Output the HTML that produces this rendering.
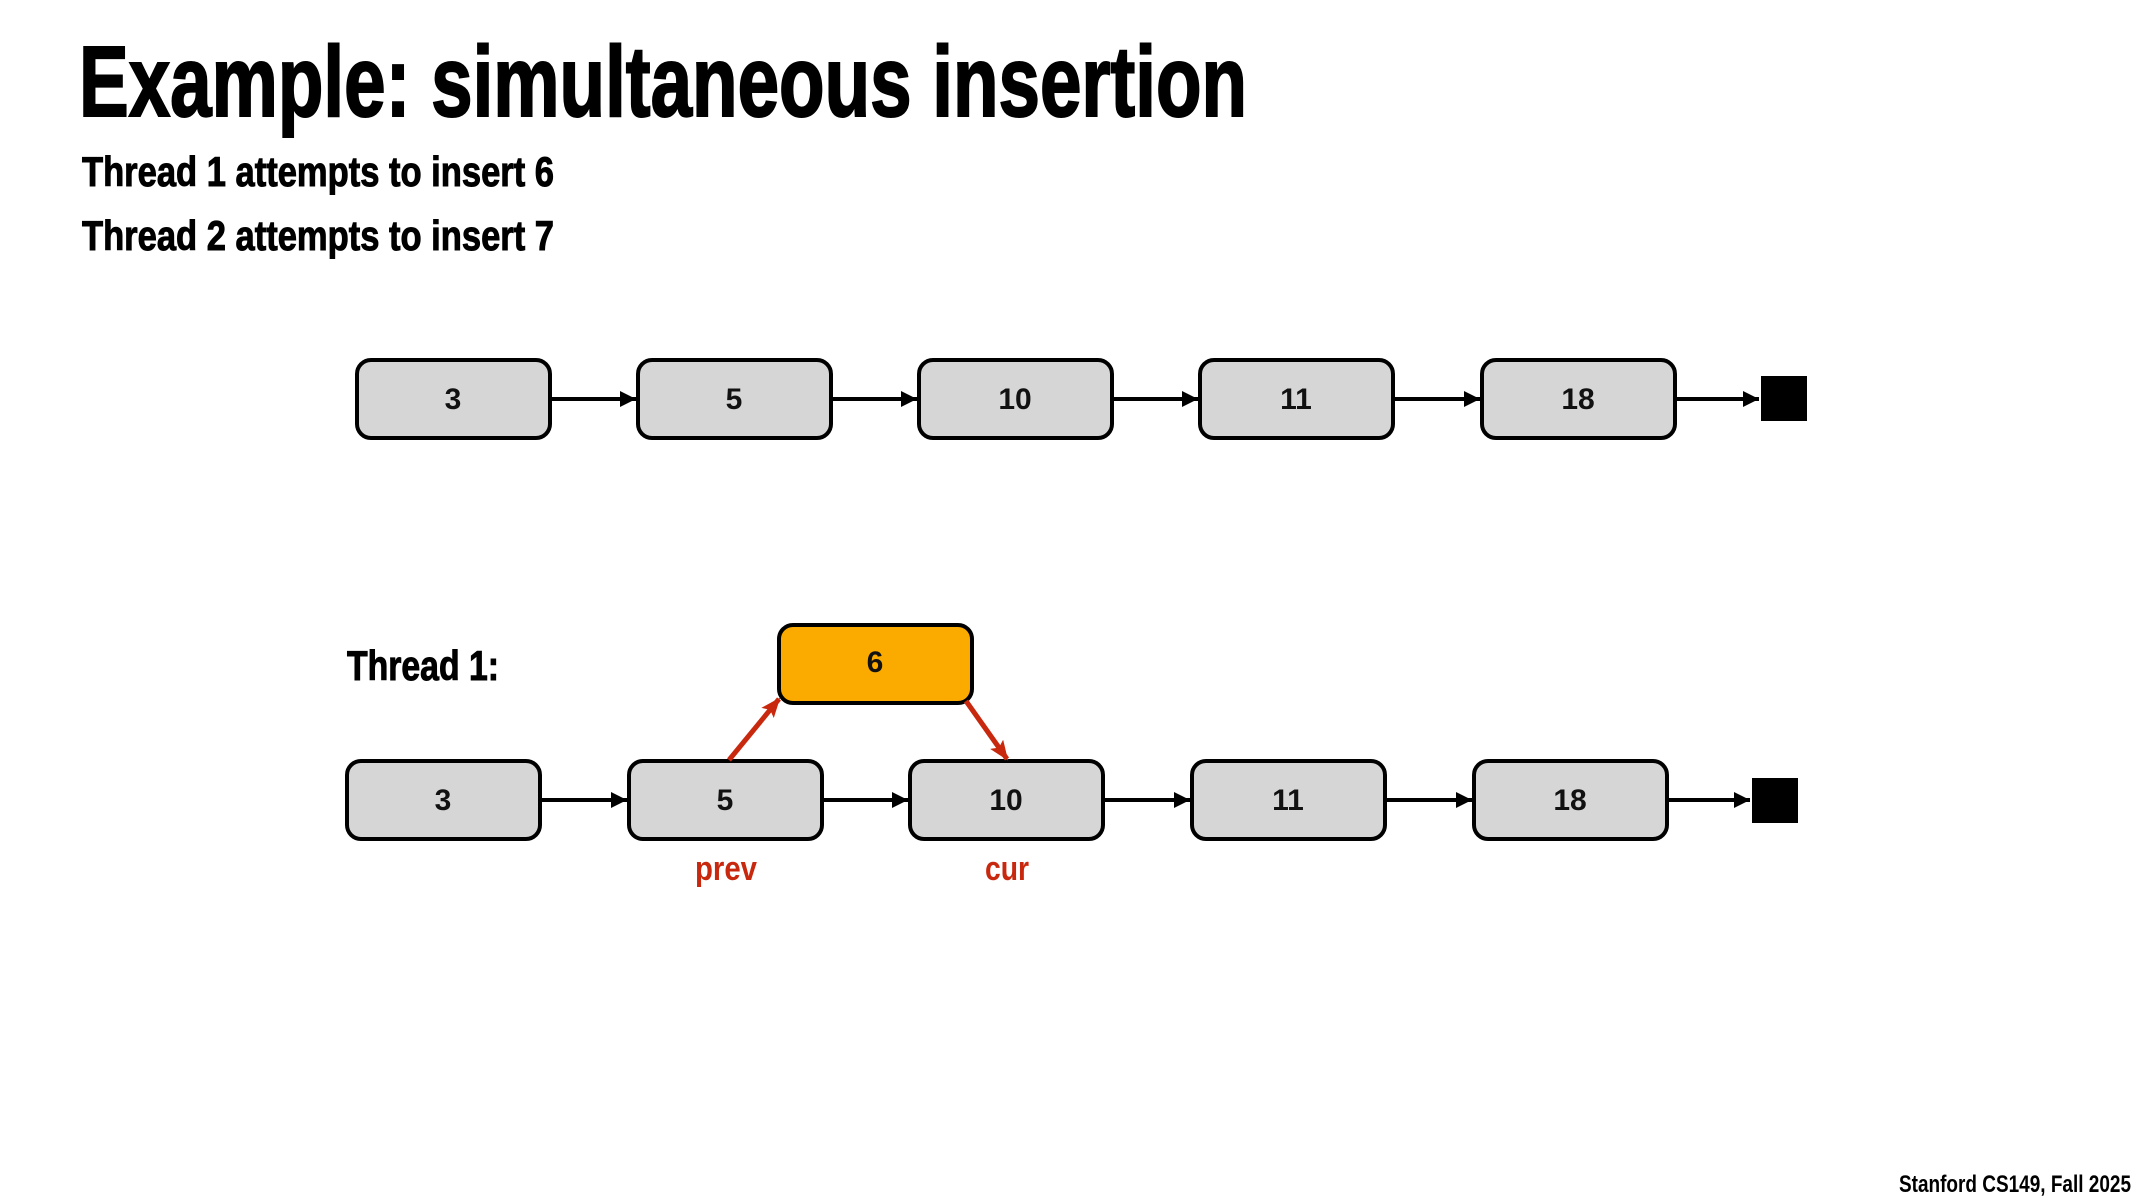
<!DOCTYPE html>
<html><head><meta charset="utf-8"><style>html,body{margin:0;padding:0;background:#fff}svg{display:block}</style></head>
<body>
<svg width="2133" height="1200" viewBox="0 0 2133 1200" xmlns="http://www.w3.org/2000/svg" font-family="Liberation Sans, sans-serif" font-weight="bold">
<defs>
<marker id="ab" markerWidth="20" markerHeight="20" refX="16" refY="8" orient="auto" markerUnits="userSpaceOnUse"><path d="M0,0 L16,8 L0,16 z" fill="#000"/></marker>
<marker id="ar" markerWidth="24" markerHeight="24" refX="18" refY="8" orient="auto" markerUnits="userSpaceOnUse"><path d="M0,0 L20,8 L0,16 L4,8 z" fill="#c8290e"/></marker>
</defs>
<text x="79" y="116" font-size="100" textLength="1168" lengthAdjust="spacingAndGlyphs" stroke="#000" stroke-width="2">Example: simultaneous insertion</text>
<text x="82" y="186" font-size="42" textLength="472" lengthAdjust="spacingAndGlyphs" stroke="#000" stroke-width="1">Thread 1 attempts to insert 6</text>
<text x="82" y="250" font-size="42" textLength="472" lengthAdjust="spacingAndGlyphs" stroke="#000" stroke-width="1">Thread 2 attempts to insert 7</text>
<text x="347" y="680" font-size="42" textLength="152" lengthAdjust="spacingAndGlyphs" stroke="#000" stroke-width="1">Thread 1:</text>
<text x="2131" y="1192" font-size="24" text-anchor="end" textLength="232" lengthAdjust="spacingAndGlyphs">Stanford CS149, Fall 2025</text>
<g stroke="#000" stroke-width="4" fill="#d6d6d6">
<rect x="357" y="360" width="193" height="78" rx="14"/>
<rect x="638" y="360" width="193" height="78" rx="14"/>
<rect x="919" y="360" width="193" height="78" rx="14"/>
<rect x="1200" y="360" width="193" height="78" rx="14"/>
<rect x="1482" y="360" width="193" height="78" rx="14"/>
<rect x="347" y="761" width="193" height="78" rx="14"/>
<rect x="629" y="761" width="193" height="78" rx="14"/>
<rect x="910" y="761" width="193" height="78" rx="14"/>
<rect x="1192" y="761" width="193" height="78" rx="14"/>
<rect x="1474" y="761" width="193" height="78" rx="14"/>
<rect x="779" y="625" width="193" height="78" rx="14" fill="#fbab00"/>
</g>
<rect x="1761" y="376" width="46" height="45" fill="#000"/>
<rect x="1752" y="778" width="46" height="45" fill="#000"/>
<g stroke="#000" stroke-width="4" marker-end="url(#ab)">
<line x1="550" y1="399" x2="636" y2="399"/>
<line x1="831" y1="399" x2="917" y2="399"/>
<line x1="1112" y1="399" x2="1198" y2="399"/>
<line x1="1393" y1="399" x2="1480" y2="399"/>
<line x1="1675" y1="399" x2="1759" y2="399"/>
<line x1="540" y1="800" x2="627" y2="800"/>
<line x1="822" y1="800" x2="908" y2="800"/>
<line x1="1103" y1="800" x2="1190" y2="800"/>
<line x1="1385" y1="800" x2="1472" y2="800"/>
<line x1="1667" y1="800" x2="1750" y2="800"/>
</g>
<g stroke="#c8290e" stroke-width="5" marker-end="url(#ar)">
<line x1="729" y1="760" x2="779" y2="699"/>
<line x1="966" y1="701" x2="1007" y2="759"/>
</g>
<g font-size="30" text-anchor="middle" fill="#111">
<text x="453" y="409">3</text><text x="734" y="409">5</text><text x="1015" y="409">10</text><text x="1296" y="409">11</text><text x="1578" y="409">18</text>
<text x="443" y="810">3</text><text x="725" y="810">5</text><text x="1006" y="810">10</text><text x="1288" y="810">11</text><text x="1570" y="810">18</text>
<text x="875" y="672">6</text>
</g>
<g font-size="34" text-anchor="middle" fill="#c8290e">
<text x="726" y="880" textLength="62" lengthAdjust="spacingAndGlyphs">prev</text>
<text x="1007" y="880" textLength="44" lengthAdjust="spacingAndGlyphs">cur</text>
</g>
</svg>
</body></html>
